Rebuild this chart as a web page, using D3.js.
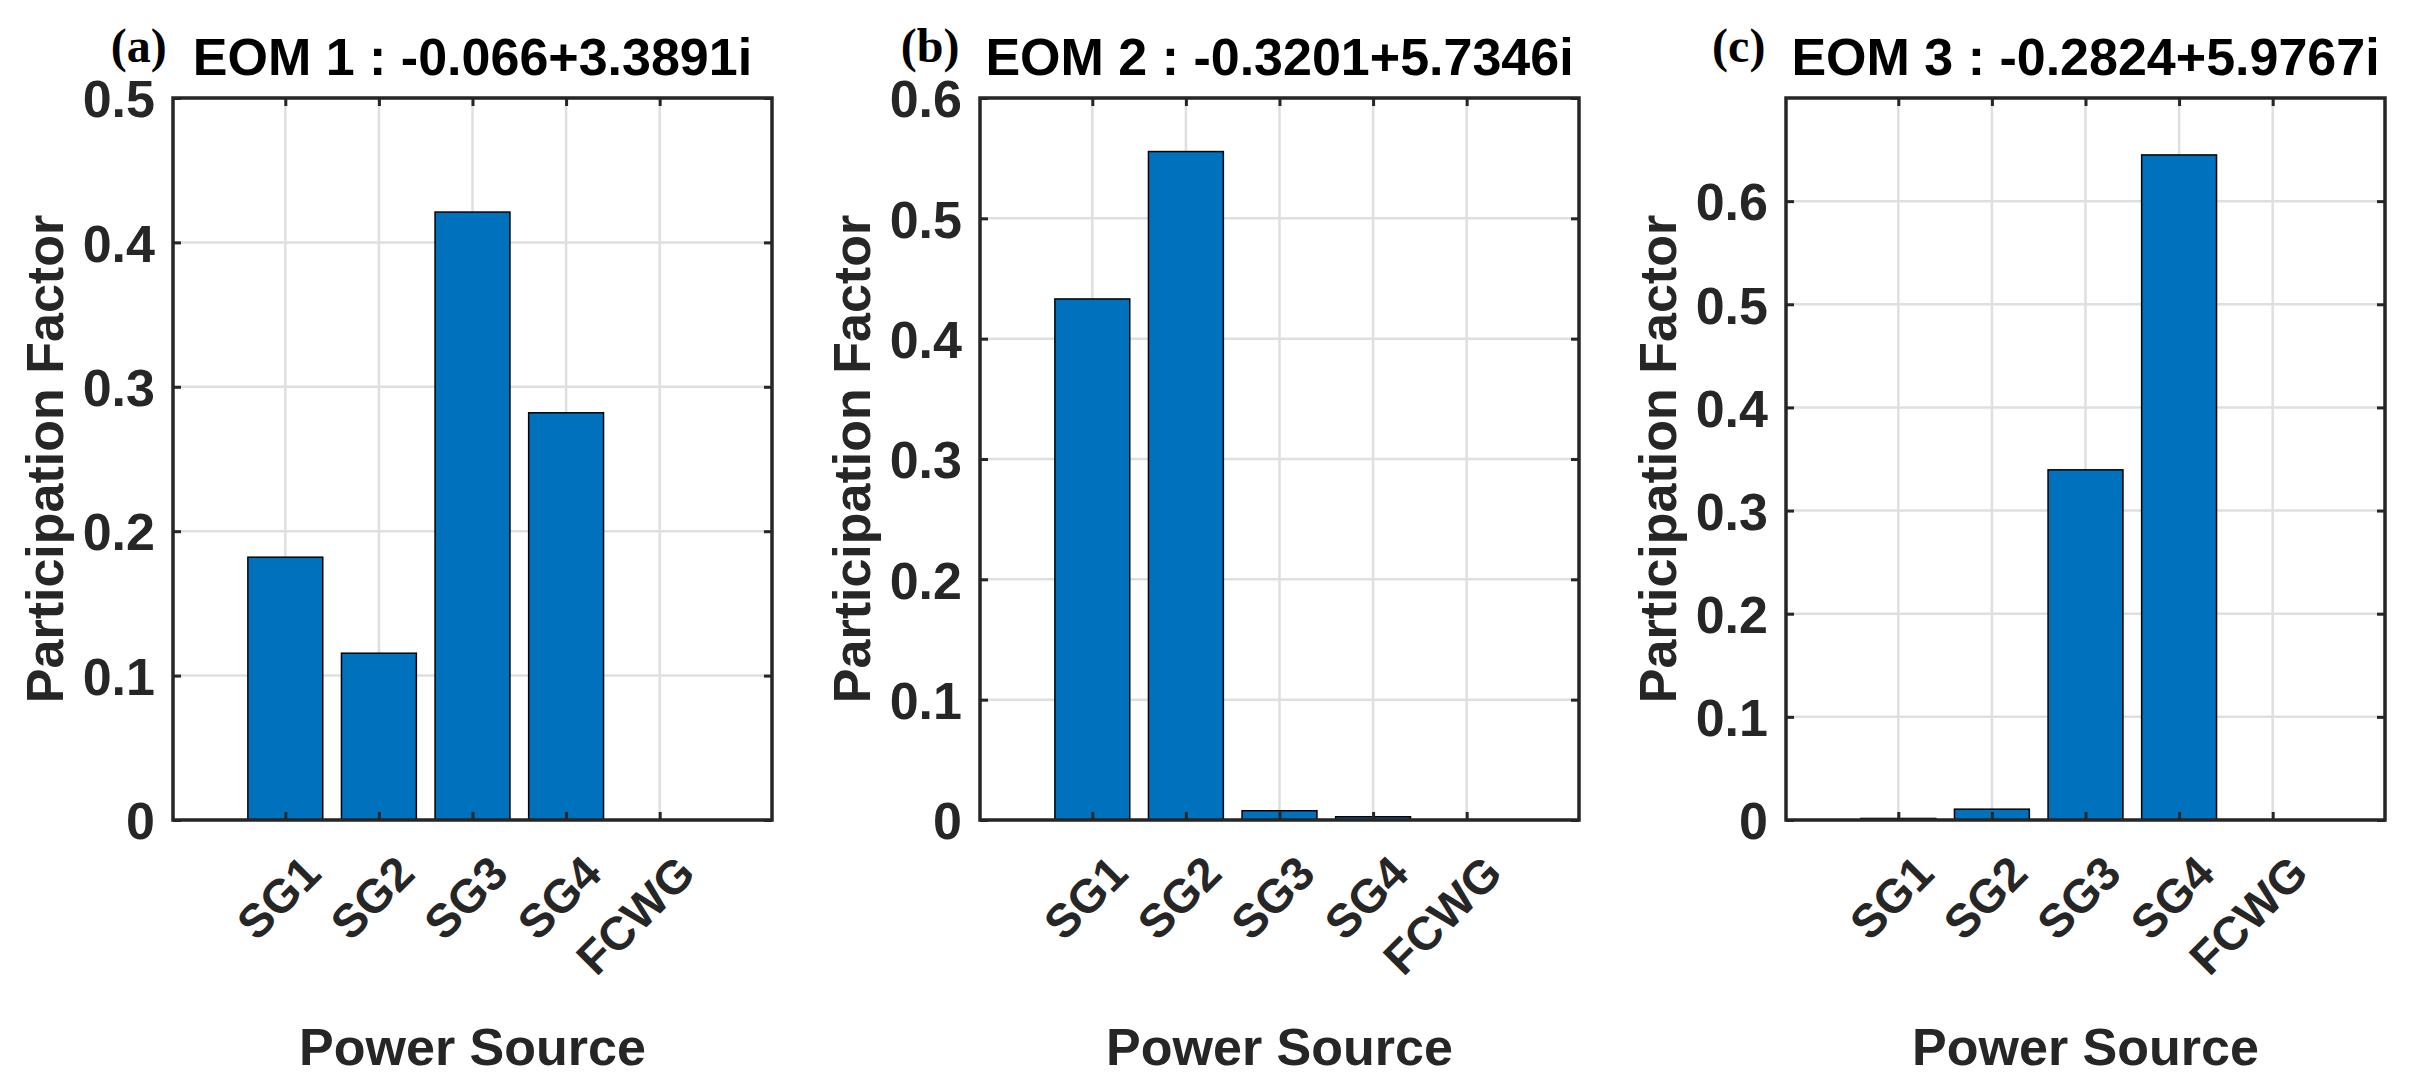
<!DOCTYPE html>
<html>
<head>
<meta charset="utf-8">
<script src="https://cdn.jsdelivr.net/npm/d3@7"></script>
<style>
  body { margin: 0; background: #fff; }
  svg text { font-family: "Liberation Sans", Arial, sans-serif; font-weight: bold; }
  .tag { font-family: "Liberation Serif", "Times New Roman", serif !important; }
</style>
</head>
<body>
<svg id="fig" width="2414" height="1087"></svg>
<script>
// data
var categories = ["SG1", "SG2", "SG3", "SG4", "FCWG"];
var eom1 = [0.182, 0.1155, 0.421, 0.282, 0];
var eom2 = [0.433, 0.5555, 0.0077, 0.0027, 0];
var eom3 = [0.0015, 0.0105, 0.3395, 0.6448, 0];
var tags = ["(a)", "(b)", "(c)"];
var titles = ["EOM 1 : -0.066+3.3891i", "EOM 2 : -0.3201+5.7346i", "EOM 3 : -0.2824+5.9767i"];
var yMax = [0.5, 0.6, 0.7];
var yTicks1 = [0, 0.1, 0.2, 0.3, 0.4, 0.5];
var yTicks2 = [0, 0.1, 0.2, 0.3, 0.4, 0.5, 0.6];
var yTicks3 = [0, 0.1, 0.2, 0.3, 0.4, 0.5, 0.6];

var panels = [
  {values: eom1, ticks: yTicks1},
  {values: eom2, ticks: yTicks2},
  {values: eom3, ticks: yTicks3}
];

var width = 599, height = 722, marginTop = 98, lefts = [173, 980, 1786];
var barColor = "#0072BD", axisColor = "#262626", gridColor = "#dfdfdf";
var fmt = d3.format("~g");

var svg = d3.select("#fig");
svg.append("rect").attr("width", 2414).attr("height", 1087).attr("fill", "#fff");

panels.forEach(function(p, k) {
  var g = svg.append("g").attr("transform", "translate(" + lefts[k] + "," + marginTop + ")");

  var x = d3.scaleLinear().domain([-0.2, 6.2]).range([0, width]);
  var y = d3.scaleLinear().domain([0, yMax[k]]).range([height, 0]);
  var pos = categories.map(function(c, i) { return i + 1; });

  // grid
  g.append("g").selectAll("line").data(pos).enter().append("line")
    .attr("x1", function(d) { return x(d); }).attr("x2", function(d) { return x(d); })
    .attr("y1", 0).attr("y2", height)
    .attr("stroke", gridColor).attr("stroke-width", 2.5);
  g.append("g").selectAll("line").data(p.ticks).enter().append("line")
    .attr("x1", 0).attr("x2", width)
    .attr("y1", function(d) { return y(d); }).attr("y2", function(d) { return y(d); })
    .attr("stroke", gridColor).attr("stroke-width", 2.5);

  // bars
  g.append("g").selectAll("rect").data(p.values).enter().append("rect")
    .attr("x", function(d, i) { return x(pos[i] - 0.4); })
    .attr("width", x(0.8) - x(0))
    .attr("y", function(d) { return y(d); })
    .attr("height", function(d) { return height - y(d); })
    .attr("fill", barColor)
    .attr("stroke", "#000").attr("stroke-width", 1.5)
    .attr("display", function(d) { return d > 0 ? null : "none"; });

  // axes, ticks pointing inward
  var yAxis = d3.axisLeft(y).tickValues(p.ticks).tickFormat(fmt).tickSizeInner(-8).tickSizeOuter(0).tickPadding(18);
  var yAxisR = d3.axisRight(y).tickValues(p.ticks).tickFormat("").tickSizeInner(-8).tickSizeOuter(0);
  var xAxis = d3.axisBottom(x).tickValues(pos).tickFormat("").tickSizeInner(-8).tickSizeOuter(0);
  var xAxisT = d3.axisTop(x).tickValues(pos).tickFormat("").tickSizeInner(-8).tickSizeOuter(0);

  var ya = g.append("g").call(yAxis);
  g.append("g").attr("transform", "translate(" + width + ",0)").call(yAxisR);
  g.append("g").attr("transform", "translate(0," + height + ")").call(xAxis);
  g.append("g").call(xAxisT);
  g.selectAll(".domain").remove();
  g.selectAll(".tick line").attr("stroke", axisColor).attr("stroke-width", 3);
  ya.selectAll("text").attr("fill", axisColor).style("font-size", "52px").attr("dy", "0.36em");

  g.append("rect").attr("width", width).attr("height", height)
    .attr("fill", "none").attr("stroke", axisColor).attr("stroke-width", 3.5);

  // rotated category labels
  g.append("g").selectAll("text").data(categories).enter().append("text")
    .attr("transform", function(d, i) { return "translate(" + (x(pos[i]) + 38) + "," + (height + 56) + ") rotate(-45)"; })
    .attr("text-anchor", "end")
    .attr("fill", axisColor)
    .style("font-size", "47px")
    .text(function(d) { return d; });

  // axis labels
  g.append("text")
    .attr("transform", "translate(-110," + (height / 2) + ") rotate(-90)")
    .attr("text-anchor", "middle").attr("fill", axisColor).style("font-size", "52px")
    .text("Participation Factor");
  g.append("text")
    .attr("x", width / 2).attr("y", 967)
    .attr("text-anchor", "middle").attr("fill", axisColor).style("font-size", "52px")
    .text("Power Source");

  // title with panel tag
  var t = g.append("text")
    .attr("x", width / 2).attr("y", -23)
    .attr("text-anchor", "middle").attr("fill", "#000").style("font-size", "52px")
    .text(titles[k]);
  var tw = t.node().getComputedTextLength();
  g.append("text").attr("class", "tag")
    .attr("x", width / 2 - tw / 2 - 26).attr("y", -36)
    .attr("text-anchor", "end").attr("fill", "#000").style("font-size", "48px")
    .text(tags[k]);
});
</script>
</body>
</html>
